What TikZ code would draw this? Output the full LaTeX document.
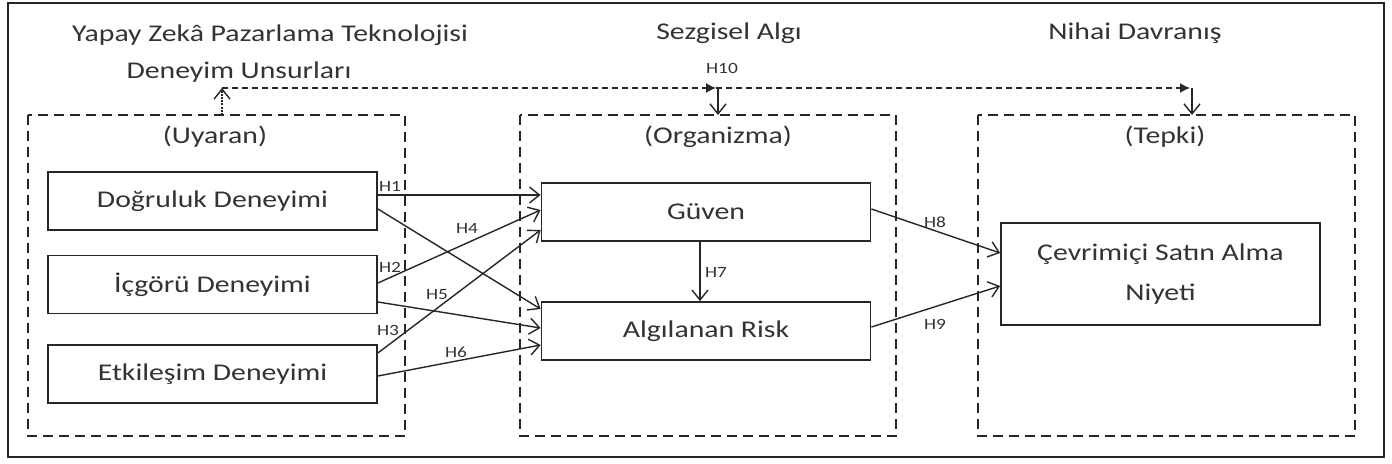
\documentclass[tikz,border=0pt]{standalone}
\usepackage{fontspec}
\setmainfont{Carlito}[FakeStretch=1.24]
\usetikzlibrary{arrows.meta}
\begin{document}
\begin{tikzpicture}[x=0.5pt,y=-0.5pt,
  txt/.style={text=black!80, font=\fontsize{12}{14}\selectfont, inner sep=0pt},
  lbl/.style={text=black!80, font=\fontsize{7.8}{9}\selectfont, inner sep=0pt},
  sbox/.style={draw=black!85, line width=0.9pt, minimum width=164.5pt, minimum height=29pt, inner sep=0pt, txt},
  dbox/.style={draw=black!85, line width=0.8pt, dash pattern=on 5pt off 3pt},
  conn/.style={draw=black!85, line width=0.7pt, -{Straight Barb[length=5pt,width=8pt,line width=0.7pt]}},
  hten/.style={draw=black!85, line width=0.7pt, dash pattern=on 3pt off 2pt},
  filltip/.style={-{Latex[length=5pt,width=5pt]}},
]
\useasboundingbox (0,0) rectangle (1392,464);
\draw[black!85, line width=0.8pt] (8,3) rectangle (1384,457);

% headers
\node[txt] (h1a) at (270,35) {Yapay Zekâ Pazarlama Teknolojisi};
\node[txt] (h1b) at (239,72) {Deneyim Unsurları};
\node[txt] (h2) at (729,33) {Sezgisel Algı};
\node[txt] (h3) at (1135,33) {Nihai Davranış};

% dashed groups
\draw[dbox] (28,115) rectangle (405,436);
\draw[dbox] (520,115) rectangle (896,436);
\draw[dbox] (978,115) rectangle (1355,436);
\node[txt] (g1) at (215,137) {(Uyaran)};
\node[txt] (g2) at (718,137) {(Organizma)};
\node[txt] (g3) at (1165,137) {(Tepki)};

% boxes
\node[sbox] (d) at (212.5,201) {Doğruluk Deneyimi};
\node[sbox] (i) at (212.5,284.5) {İçgörü Deneyimi};
\node[sbox] (e) at (212.5,374) {Etkileşim Deneyimi};
\node[sbox] (g) at (706,212) {Güven};
\node[sbox] (r) at (706,331) {Algılanan Risk};
\node[sbox, minimum width=159.5pt, minimum height=51pt, align=center] (c) at (1160.5,274) {Çevrimiçi Satın Alma\\[6pt]Niyeti};

% connectors
\draw[conn] (d.east |- 0,195) -- (g.west |- 0,195);
\draw[conn] (d.east |- 0,209) -- (r.west |- 0,309);
\draw[conn] (i.east |- 0,283) -- (g.west |- 0,210);
\draw[conn] (i.east |- 0,302) -- (r.west |- 0,328);
\draw[conn] (e.east |- 0,353) -- (g.west |- 0,230);
\draw[conn] (e.east |- 0,376) -- (r.west |- 0,345);
\draw[conn] (g.south -| 700,0) -- (r.north -| 700,0);
\draw[conn] (g.east |- 0,209) -- (c.west |- 0,253);
\draw[conn] (r.east |- 0,327) -- (c.west |- 0,286);

% labels
\node[lbl] (l1) at (390,186) {H1};
\node[lbl] (l2) at (390,267) {H2};
\node[lbl] (l3) at (388,330) {H3};
\node[lbl] (l4) at (467,228) {H4};
\node[lbl] (l5) at (437,295) {H5};
\node[lbl] (l6) at (456,352) {H6};
\node[lbl] (l7) at (716,272) {H7};
\node[lbl] (l8) at (935,222) {H8};
\node[lbl] (l9) at (935,324) {H9};
\node[lbl] (l10) at (722,68) {H10};

% H10 line
\coordinate (ua) at (222,88);
\coordinate (ub) at (222,115);
\coordinate (oa) at (716,88);
\coordinate (oc) at (718,88);
\coordinate (ob) at (718,115);
\coordinate (ta) at (1190,88);
\coordinate (tc) at (1192,88);
\coordinate (tb) at (1192,115);
\draw[hten, filltip] (ua) -- (oa);
\draw[hten, filltip] (oa) -- (ta);
\draw[conn, dash pattern=on 1pt off 0.6pt] (ub) -- (ua);
\draw[conn] (oc) -- (ob);
\draw[conn] (tc) -- (tb);
\end{tikzpicture}
\end{document}
